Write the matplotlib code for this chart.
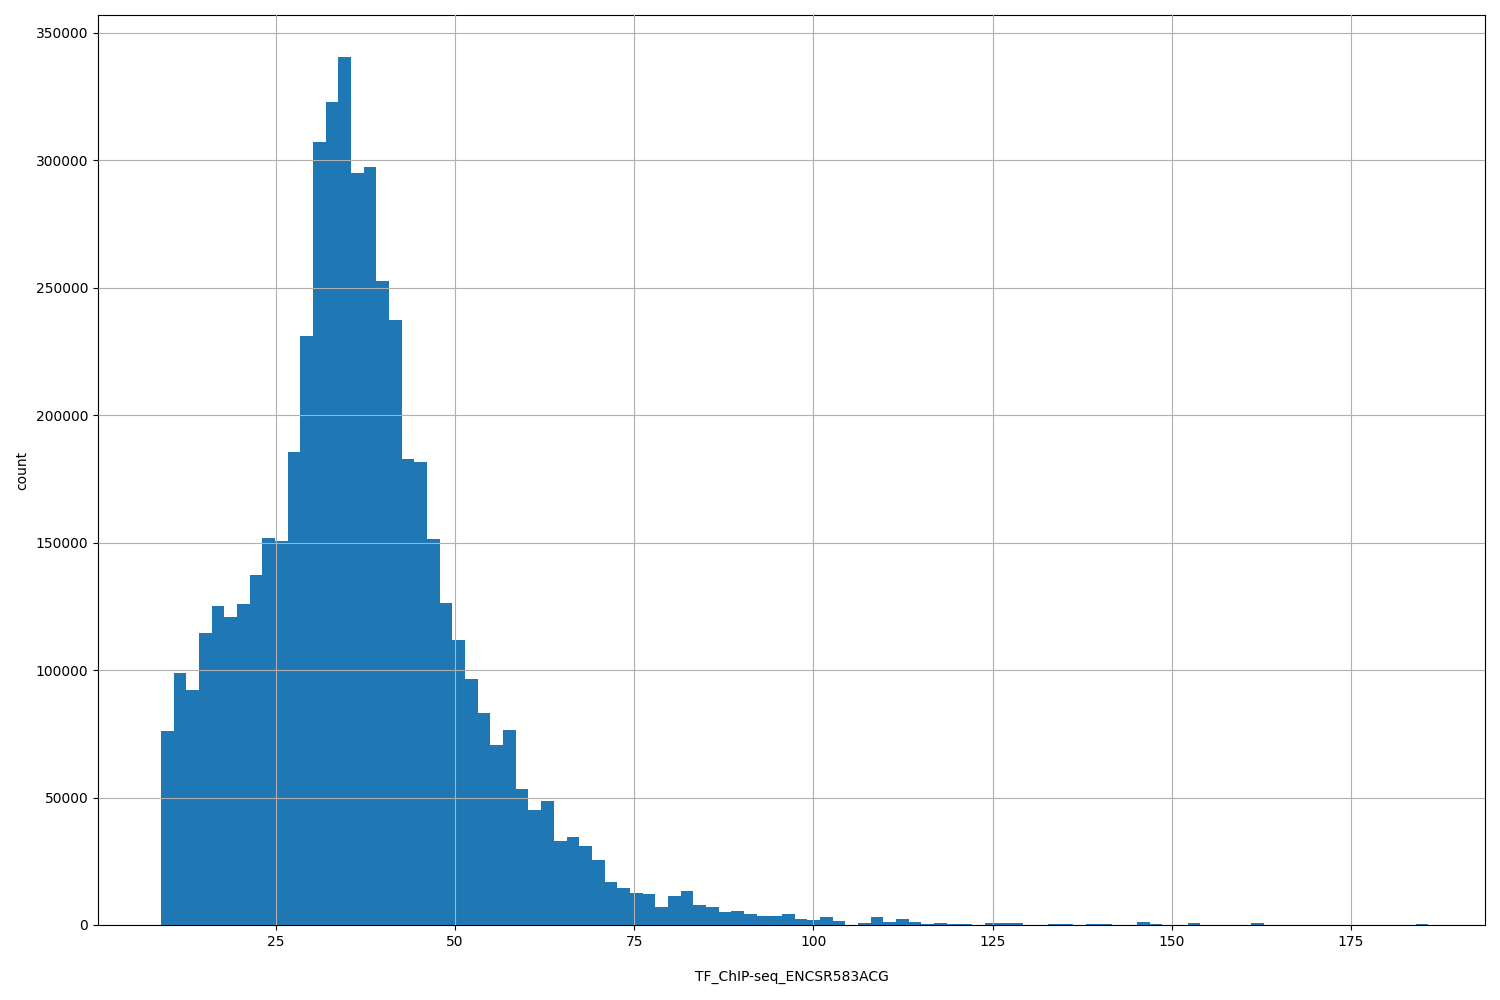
import numpy as np
import matplotlib
matplotlib.use("Agg")
import matplotlib.pyplot as plt

x_min, x_max = 8.96, 185.8
counts = [76000, 99000, 92000, 114500, 125000, 121000, 126000, 137500, 152000, 150500,
          185500, 231000, 307000, 323000, 340500, 295000, 297500, 252500, 237500, 183000,
          181500, 151500, 126500, 112000, 96500, 83000, 70500, 76500, 53500, 45000,
          48500, 33000, 34500, 31000, 25500, 17000, 14500, 12500, 12000, 7000,
          11500, 13500, 8000, 7000, 5000, 5500, 4500, 3500, 3500, 4500,
          2500, 2000, 3000, 1500, 0, 600, 3200, 1000, 2200, 1000,
          400, 700, 400, 400, 0, 700, 700, 700, 0, 0,
          400, 400, 0, 400, 400, 0, 0, 1300, 500, 0,
          0, 800, 0, 0, 0, 0, 800, 0, 0, 0,
          0, 0, 0, 0, 0, 0, 0, 0, 0, 500]

edges = np.linspace(x_min, x_max, len(counts) + 1)
fig = plt.figure(figsize=(15, 10), dpi=100)
ax = fig.add_axes([98/1500, 75/1000, (1485-98)/1500, (925-15)/1000])
ax.bar(edges[:-1], counts, width=np.diff(edges), align='edge', color='#1f77b4', zorder=2)
ax.grid(True, color='#b0b0b0', zorder=3)
ax.set_axisbelow(False)
ax.set_xlim(0.18, 193.7)
ax.set_ylim(0, 357000)
ax.set_xticks([25, 50, 75, 100, 125, 150, 175])
ax.set_xlabel("TF_ChIP-seq_ENCSR583ACG", labelpad=15)
ax.set_ylabel("count", labelpad=4.8)
fig.savefig("out.png")
